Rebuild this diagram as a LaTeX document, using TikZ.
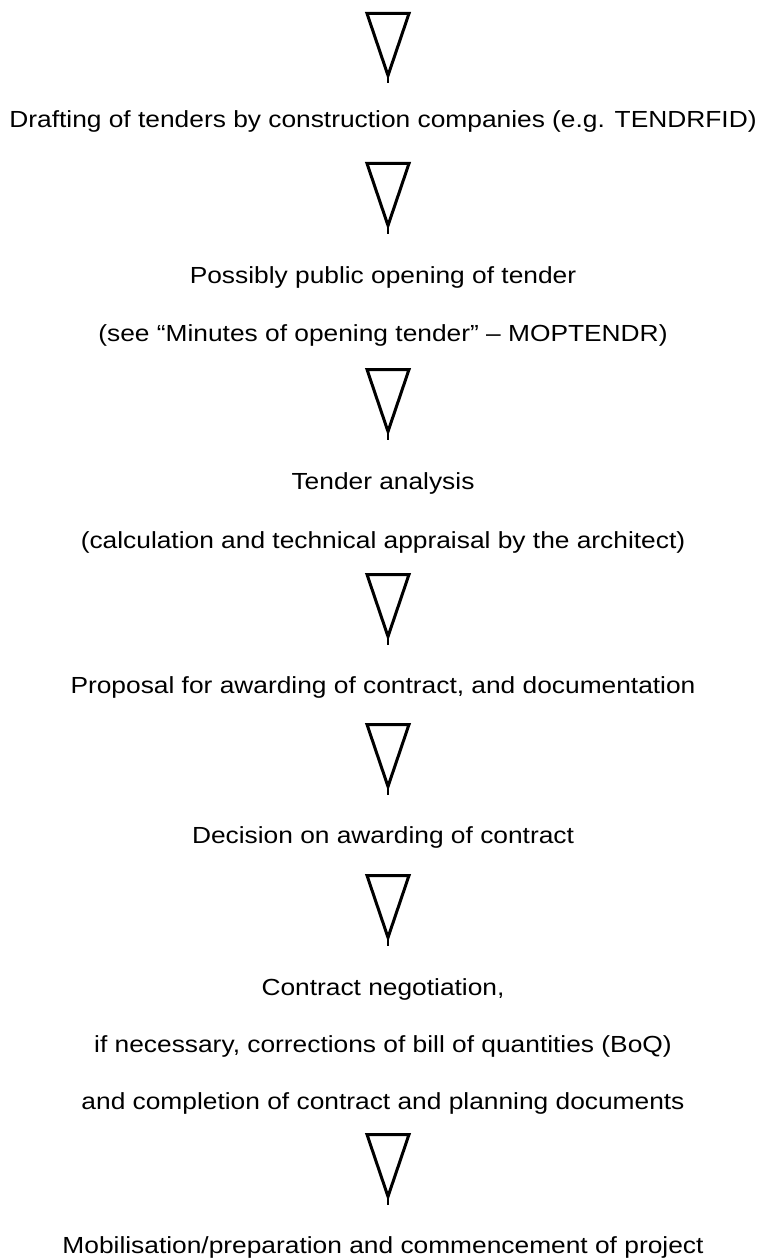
\documentclass[tikz,border=0pt]{standalone}
\usepackage{fontspec}
\setmainfont{Liberation Sans}[FakeStretch=1.13]
\usepackage{tikz}

\tikzset{
  flowtri/.pic={
    \draw[line width=3pt, line join=miter] (-21,0) -- (21,0) -- (0,-62) -- cycle;
    \draw[line width=2.5pt] (0,-62) -- (0,-70);
  },
  steptext/.style={anchor=base, inner sep=0pt, font=\fontsize{23.3}{28}\selectfont}
}

\begin{document}
\begin{tikzpicture}[x=1pt, y=1pt]
\useasboundingbox (0,0) rectangle (766,-1260);

% Triangles between the steps
\pic (tri1) at (388,-13.5) {flowtri};
\pic (tri2) at (388,-163.5) {flowtri};
\pic (tri3) at (388,-369.5) {flowtri};
\pic (tri4) at (388,-574.5) {flowtri};
\pic (tri5) at (388,-724.5) {flowtri};
\pic (tri6) at (388,-875.5) {flowtri};
\pic (tri7) at (388,-1134.5) {flowtri};

% Steps
\node[steptext] (drafting) at (383,-128) {Drafting of tenders by construction companies (e.g. TENDRFID)};

\node[steptext] (opening) at (383,-283) {Possibly public opening of tender};
\node[steptext] (openingmin) at (383,-341) {(see “Minutes of opening tender” – MOPTENDR)};

\node[steptext] (analysis) at (383,-489) {Tender analysis};
\node[steptext] (analysiscalc) at (383,-548) {(calculation and technical appraisal by the architect)};

\node[steptext] (proposal) at (383,-693) {Proposal for awarding of contract, and documentation};

\node[steptext] (decision) at (383,-843) {Decision on awarding of contract};

\node[steptext] (negotiation) at (383,-995) {Contract negotiation,};
\node[steptext] (negcorr) at (383,-1052) {if necessary, corrections of bill of quantities (BoQ)};
\node[steptext] (negcompl) at (383,-1109) {and completion of contract and planning documents};

\node[steptext] (mobilisation) at (383,-1253) {Mobilisation/preparation and commencement of project};
\end{tikzpicture}
\end{document}
